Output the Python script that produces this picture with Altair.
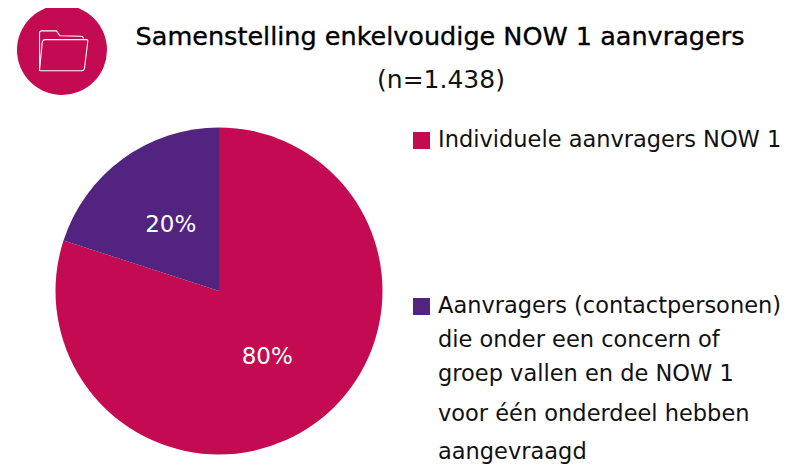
import altair as alt
import pandas as pd

categories = ["Individuele aanvragers NOW 1", "Aanvragers (contactpersonen)"]
values = [80, 20]
pct_labels = ["80%", "20%"]
colors = ["#C40A50", "#52237F"]
title_text = "Samenstelling enkelvoudige NOW 1 aanvragers"
subtitle_text = "(n=1.438)"
legend_lines = [
    "Individuele aanvragers NOW 1",
    "Aanvragers (contactpersonen)",
    "die onder een concern of",
    "groep vallen en de NOW 1",
    "voor één onderdeel hebben",
    "aangevraagd",
]
legend_line_y = [132, 298, 332, 366, 406, 444]
legend_sq_y = [132.5, 298.5]

FONT = "DejaVu Sans"
pie_df = pd.DataFrame({"cat": categories, "v": values, "label": pct_labels, "o": [0, 1]})
scale = alt.Scale(domain=categories, range=colors)
cx, cy = alt.value(211), alt.value(283)

pie = alt.Chart(pie_df).mark_arc(outerRadius=163.5, innerRadius=0).encode(
    theta=alt.Theta("v:Q", stack=True),
    order=alt.Order("o:O"),
    color=alt.Color("cat:N", scale=scale, legend=None),
    x=cx, y=cy,
)
pct = alt.Chart(pie_df).mark_text(radius=82, font=FONT, fontSize=23, color="white").encode(
    theta=alt.Theta("v:Q", stack=True),
    order=alt.Order("o:O"),
    text="label:N",
    x=cx, y=cy,
)

icon_bg = alt.Chart(pd.DataFrame({"a": [0]})).mark_point(
    shape="circle", filled=True, color="#C40A50", opacity=1, size=8100
).encode(x=alt.value(54), y=alt.value(42))

folder_path = ("M-0.82,0.75 L-0.82,-0.62 Q-0.82,-0.7 -0.74,-0.7 L-0.2,-0.7 L-0.08,-0.52 L0.7,-0.5 "
               "Q0.78,-0.5 0.78,-0.42 M-0.82,0.75 L-0.72,-0.3 Q-0.7,-0.38 -0.62,-0.38 L0.88,-0.38 "
               "Q0.96,-0.38 0.94,-0.3 L0.82,0.68 Q0.8,0.76 0.72,0.76 L-0.78,0.76 Q-0.82,0.76 -0.82,0.75")
icon = alt.Chart(pd.DataFrame({"a": [0]})).mark_point(
    shape=folder_path, filled=False, stroke="white", strokeWidth=1.1, opacity=1, size=3000
).encode(x=alt.value(54), y=alt.value(42))

title = alt.Chart(pd.DataFrame({"t": [title_text]})).mark_text(
    font=FONT, fontSize=25.5, color="black", stroke="black", strokeWidth=0.35,
    align="center", baseline="middle"
).encode(text="t:N", x=alt.value(432), y=alt.value(29))
subtitle = alt.Chart(pd.DataFrame({"t": [subtitle_text]})).mark_text(
    font=FONT, fontSize=25, color="#111111", align="center", baseline="middle"
).encode(text="t:N", x=alt.value(433), y=alt.value(72))

squares = [
    alt.Chart(pd.DataFrame({"c": [c]})).mark_square(size=289, opacity=1, color=col).encode(
        x=alt.value(413.5), y=alt.value(y)
    )
    for c, col, y in zip(categories, colors, legend_sq_y)
]
lines = [
    alt.Chart(pd.DataFrame({"t": [t]})).mark_text(
        font=FONT, fontSize=22.5, color="#111111", align="left", baseline="middle"
    ).encode(text="t:N", x=alt.value(430), y=alt.value(y))
    for t, y in zip(legend_lines, legend_line_y)
]

chart = alt.layer(pie, pct, icon_bg, icon, title, subtitle, *squares, *lines).properties(
    width=779, height=458, padding=0, autosize=alt.AutoSizeParams(type="none")
).configure_view(stroke=None)

chart.save("out.html", embed_options={"renderer": "svg", "actions": False})
